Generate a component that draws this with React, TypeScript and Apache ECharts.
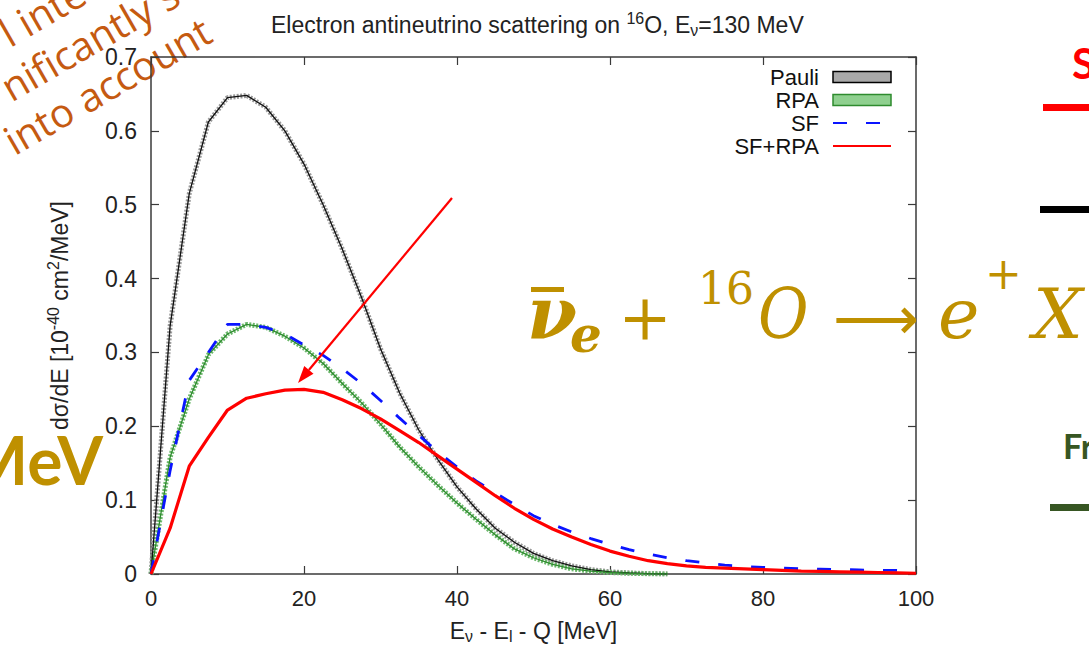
import React, { useEffect, useRef } from 'react';
import * as echarts from 'echarts';

// x values: E_nu - E_l - Q [MeV]
const energy = [0, 2.5, 5, 7.5, 10, 12.5, 15, 17.5, 20, 22.5, 25, 27.5, 30, 32.5, 35, 37.5, 40, 42.5, 45, 47.5, 50,
  52.5, 55, 57.5, 60, 62.5, 65, 67.5, 70, 72.5, 75, 77.5, 80, 82.5, 85, 87.5, 90, 92.5, 95, 97.5, 100];

const pauli = [0, 0.336, 0.515, 0.612, 0.645, 0.648, 0.632, 0.600, 0.555, 0.500, 0.440, 0.375, 0.305, 0.245, 0.195, 0.155,
  0.118, 0.088, 0.062, 0.043, 0.028, 0.018, 0.011, 0.006, 0.003, 0.0015, 0.0005, 0,
  null, null, null, null, null, null, null, null, null, null, null, null, null];

const rpa = [0, 0.158, 0.237, 0.297, 0.325, 0.338, 0.334, 0.322, 0.306, 0.285, 0.258, 0.232, 0.203, 0.172, 0.145, 0.120,
  0.096, 0.074, 0.053, 0.034, 0.022, 0.013, 0.007, 0.004, 0.002, 0.001, 0.0003, 0,
  null, null, null, null, null, null, null, null, null, null, null, null, null];

const sf = [0, 0.140, 0.262, 0.300, 0.338, 0.338, 0.334, 0.325, 0.310, 0.296, 0.278, 0.258, 0.235, 0.211, 0.188, 0.165,
  0.145, 0.126, 0.110, 0.094, 0.079, 0.067, 0.057, 0.048, 0.040, 0.033, 0.027, 0.022, 0.018, 0.015, 0.012, 0.010,
  0.009, 0.008, 0.007, 0.0065, 0.006, 0.0055, 0.005, 0.005, 0.004];

const sfRpa = [0, 0.062, 0.146, 0.185, 0.222, 0.238, 0.244, 0.249, 0.250, 0.246, 0.236, 0.224, 0.210, 0.194, 0.178, 0.160,
  0.142, 0.124, 0.106, 0.089, 0.074, 0.061, 0.050, 0.040, 0.031, 0.024, 0.018, 0.014, 0.011, 0.009, 0.008, 0.007,
  0.006, 0.005, 0.004, 0.0035, 0.003, 0.0025, 0.002, 0.0015, 0.001];

const legendNames = ['Pauli', 'RPA', 'SF', 'SF+RPA'];

const FONT = '"Liberation Sans", Arial, Helvetica, sans-serif';
const GOLD = '#bf9000';
const ORANGE = '#c55a11';
const FRAME = '#3a3a3a';

const toPairs = (ys: (number | null)[]) =>
  energy.map((x, i) => [x, ys[i]]).filter((p) => p[1] !== null);

export default function App() {
  const ref = useRef<HTMLDivElement>(null);
  useEffect(() => {
    if (!ref.current) return;
    const chart = echarts.init(ref.current, undefined, { renderer: 'svg' });

    const axisLine = { show: true, onZero: false, lineStyle: { color: FRAME, width: 1.5 } };
    const axisTick = { show: true, inside: true, length: 8, lineStyle: { color: FRAME, width: 1.2 } };
    const rich = {
      a: { fontSize: 23, fontFamily: FONT, color: '#222', fontWeight: 'normal' },
      sup: { fontSize: 16, fontFamily: FONT, color: '#222', fontWeight: 'normal', padding: [0, 0, 13, 0] },
      sub: { fontSize: 16, fontFamily: FONT, color: '#222', fontWeight: 'normal', padding: [11, 0, 0, 0] },
    };

    // arrow geometry
    const ax0 = 452, ay0 = 198, ax1 = 298, ay1 = 383;
    const len = Math.hypot(ax1 - ax0, ay1 - ay0);
    const ux = (ax1 - ax0) / len, uy = (ay1 - ay0) / len;
    const bx = ax1 - 17 * ux, by = ay1 - 17 * uy;
    const nx = -uy, ny = ux;

    const orangeFont = { fill: ORANGE, fontSize: 40, fontFamily: '"Open Sans", sans-serif', verticalAlign: 'middle' };

    chart.setOption({
      animation: false,
      backgroundColor: '#ffffff',
      title: {
        text: '{a|Electron antineutrino scattering on }{sup|16}{a|O, E}{sub|ν}{a|=130 MeV}',
        left: 266,
        top: 5,
        textStyle: { fontWeight: 'normal', rich },
      },
      grid: { left: 151, right: 173, top: 57, bottom: 72, containLabel: false },
      legend: {
        orient: 'vertical',
        right: 192,
        top: 61,
        align: 'right',
        itemWidth: 58,
        itemHeight: 11,
        itemGap: 1,
        selectedMode: false,
        textStyle: { fontSize: 22, fontFamily: FONT, color: '#111', padding: [0, 9, 0, 0] },
        data: [
          { name: legendNames[0], icon: 'rect', itemStyle: { color: '#a8a8a8', borderColor: '#000', borderWidth: 1.5 } },
          { name: legendNames[1], icon: 'rect', itemStyle: { color: '#8fd08f', borderColor: '#2e8b2e', borderWidth: 1.5 } },
          { name: legendNames[2], itemStyle: { opacity: 0 } },
          { name: legendNames[3], itemStyle: { opacity: 0 } },
        ],
      },
      xAxis: [
        {
          type: 'value', min: 0, max: 100, interval: 20, position: 'bottom',
          axisLine, axisTick,
          axisLabel: { fontSize: 22, fontFamily: FONT, color: '#222', margin: 13 },
          splitLine: { show: false },
          name: '{a|E}{sub|ν}{a| - E}{sub|l}{a| - Q [MeV]}',
          nameLocation: 'middle', nameGap: 43,
          nameTextStyle: { rich },
        },
        {
          type: 'value', min: 0, max: 100, interval: 20, position: 'top',
          axisLine, axisTick, axisLabel: { show: false }, splitLine: { show: false },
        },
      ],
      yAxis: [
        {
          type: 'value', min: 0, max: 0.7, interval: 0.1, position: 'left',
          axisLine, axisTick,
          axisLabel: {
            fontSize: 23, fontFamily: FONT, color: '#222', margin: 14,
            formatter: (v: number) => (v === 0 ? '0' : v.toFixed(1)),
          },
          splitLine: { show: false },
          name: '{a|dσ/dE [10}{sup|-40}{a| cm}{sup|2}{a|/MeV]}',
          nameLocation: 'middle', nameGap: 77,
          nameTextStyle: { rich },
        },
        {
          type: 'value', min: 0, max: 0.7, interval: 0.1, position: 'right',
          axisLine, axisTick, axisLabel: { show: false }, splitLine: { show: false },
        },
      ],
      series: [
        {
          name: 'Pauli', type: 'line', data: toPairs(pauli), symbol: 'none', z: 2,
          itemStyle: { color: '#a8a8a8' },
          lineStyle: { color: '#9a9a9a', width: 5, type: [2, 1.5] },
        },
        {
          name: 'Pauli line', type: 'line', data: toPairs(pauli), symbol: 'none', z: 3,
          itemStyle: { color: '#000' },
          lineStyle: { color: '#111', width: 1.3 },
        },
        {
          name: 'RPA', type: 'line', data: toPairs(rpa), symbol: 'none', z: 2,
          itemStyle: { color: '#8fd08f' },
          lineStyle: { color: '#6cb86c', width: 5, type: [2, 1.5] },
        },
        {
          name: 'RPA line', type: 'line', data: toPairs(rpa), symbol: 'none', z: 3,
          itemStyle: { color: '#2e8b2e' },
          lineStyle: { color: '#2e8b2e', width: 1.3 },
        },
        {
          name: 'SF', type: 'line', data: toPairs(sf), symbol: 'none', showSymbol: false, z: 4,
          itemStyle: { color: '#0a14ff' },
          lineStyle: { color: '#0a14ff', width: 2.8, type: [14, 19] },
        },
        {
          name: 'SF+RPA', type: 'line', data: toPairs(sfRpa), symbol: 'none', showSymbol: false, z: 5,
          itemStyle: { color: '#ff0000' },
          lineStyle: { color: '#ff0000', width: 3.2 },
        },
      ],
      graphic: [
        // red annotation arrow
        {
          type: 'line', z: 50,
          shape: { x1: ax0, y1: ay0, x2: bx, y2: by },
          style: { stroke: '#ff0000', lineWidth: 2.2 },
        },
        {
          type: 'polygon', z: 50,
          shape: { points: [[ax1, ay1], [bx + 6 * nx, by + 6 * ny], [bx - 6 * nx, by - 6 * ny]] },
          style: { fill: '#ff0000' },
        },
        // rotated orange slide text
        {
          type: 'group', x: 14, y: 155, rotation: Math.PI / 6, z: 60,
          children: [
            { type: 'text', x: 0, y: -14, style: { ...orangeFont, text: 'into account' } },
            { type: 'text', x: 24, y: -62, style: { ...orangeFont, text: 'nificantly s' } },
            { type: 'text', x: 50, y: -110, style: { ...orangeFont, text: 'l inte' } },
          ],
        },
        // big MeV
        {
          type: 'text', x: 103, y: 459, z: 60,
          style: { text: 'MeV', fill: GOLD, fontSize: 66, fontWeight: 'bold', fontFamily: 'Lato, sans-serif', align: 'right', verticalAlign: 'middle' },
        },
        // formula
        { type: 'text', x: 527, y: 313, z: 60, style: { text: 'ν', fill: GOLD, fontSize: 72, fontWeight: 'bold', fontStyle: 'italic', fontFamily: '"DejaVu Serif", serif', verticalAlign: 'middle' } },
        { type: 'rect', z: 60, shape: { x: 531, y: 287, width: 33, height: 5 }, style: { fill: GOLD } },
        { type: 'text', x: 570, y: 334, z: 60, style: { text: 'e', fill: GOLD, fontSize: 50, fontWeight: 'bold', fontStyle: 'italic', fontFamily: '"DejaVu Serif", serif', verticalAlign: 'middle' } },
        { type: 'text', x: 645, y: 317, z: 60, style: { text: '+', fill: GOLD, fontSize: 64, fontFamily: '"DejaVu Serif", serif', align: 'center', verticalAlign: 'middle' } },
        { type: 'text', x: 698, y: 288, z: 60, style: { text: '16', fill: GOLD, fontSize: 44, fontFamily: '"DejaVu Serif", serif', verticalAlign: 'middle' } },
        { type: 'text', x: 758, y: 314, z: 60, scaleX: 0.88, style: { text: 'O', fill: GOLD, fontSize: 70, fontStyle: 'italic', fontFamily: '"DejaVu Serif", serif', verticalAlign: 'middle' } },
        { type: 'text', x: 833, y: 318, z: 60, style: { text: '⟶', fill: GOLD, fontSize: 60, fontFamily: '"DejaVu Sans", sans-serif', verticalAlign: 'middle' } },
        { type: 'text', x: 938, y: 314, z: 60, style: { text: 'e', fill: GOLD, fontSize: 70, fontStyle: 'italic', fontFamily: '"DejaVu Serif", serif', verticalAlign: 'middle' } },
        { type: 'text', x: 985, y: 273, z: 60, style: { text: '+', fill: GOLD, fontSize: 44, fontFamily: '"DejaVu Serif", serif', verticalAlign: 'middle' } },
        { type: 'text', x: 1033, y: 314, z: 60, style: { text: 'X', fill: GOLD, fontSize: 70, fontStyle: 'italic', fontFamily: '"DejaVu Serif", serif', verticalAlign: 'middle' } },
        // right side slide fragments
        { type: 'text', x: 1072, y: 63, z: 60, style: { text: 'S', fill: '#ff0000', fontSize: 42, fontWeight: 'bold', fontFamily: 'Lato, sans-serif', verticalAlign: 'middle' } },
        { type: 'rect', z: 60, shape: { x: 1043, y: 104, width: 50, height: 7 }, style: { fill: '#ff0000' } },
        { type: 'rect', z: 60, shape: { x: 1040, y: 206, width: 50, height: 7 }, style: { fill: '#000000' } },
        { type: 'text', x: 1063, y: 445, z: 60, style: { text: 'Fr', fill: '#375623', fontSize: 34, fontWeight: 'bold', fontFamily: 'Lato, sans-serif', verticalAlign: 'middle' } },
        { type: 'rect', z: 60, shape: { x: 1050, y: 504, width: 45, height: 7 }, style: { fill: '#375623' } },
      ],
    });
    return () => chart.dispose();
  }, []);

  return <div ref={ref} style={{ position: 'absolute', left: 0, top: 0, width: 1089, height: 649 }} />;
}
